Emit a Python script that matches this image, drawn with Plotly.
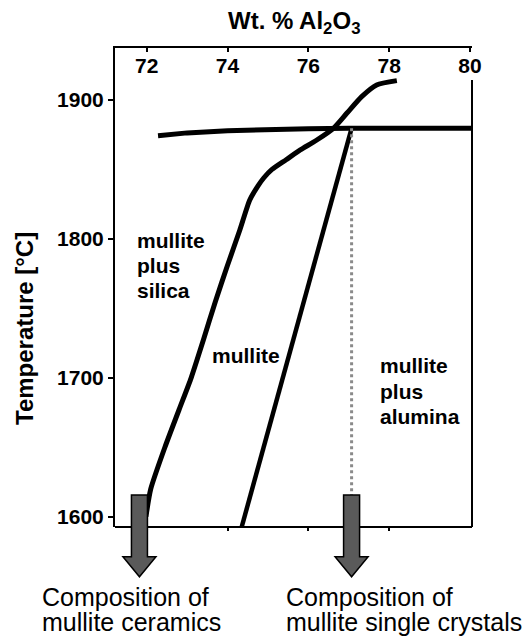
import plotly.graph_objects as go

# ---------------- data ----------------
x_ticks = [72, 74, 76, 78, 80]
y_ticks = [1600, 1700, 1800, 1900]

# three-phase (solidus) horizontal line
solidus_x = [72.28, 73.0, 74.0, 75.0, 76.0, 77.0, 78.0, 80.05]
solidus_T = [1874.3, 1876.3, 1877.8, 1878.8, 1879.3, 1879.6, 1879.6, 1879.6]

# boundary mullite / mullite + silica (continues above solidus)
silica_x = [71.98, 72.1, 72.45, 72.8, 73.1, 73.4, 73.7, 74.0, 74.3, 74.55, 74.75, 74.9,
            75.1, 75.45, 75.8, 76.2, 76.62, 76.95, 77.32, 77.69, 78.19]
silica_T = [1600, 1620, 1650, 1677, 1700, 1727, 1755, 1781, 1806, 1828, 1838, 1844,
            1850, 1857, 1864, 1871, 1879.6, 1890.4, 1902.4, 1910.8, 1913.9]

# boundary mullite / mullite + alumina
alumina_x = [74.35, 75.35, 76.25, 77.07]
alumina_T = [1592.6, 1697, 1791, 1879.6]

# compositions marked by arrows
ceramic_comp = 71.82
crystal_comp = 77.07
arrow_top_T = 1615.6
dotted_T = [1879.6, 1615.6]
right_border_top_T = 1914.4

# ---------------- layout constants ----------------
X0, X1 = 71.215, 80.05
Y0, Y1 = 1592.6, 1937.4
ML, MR, MT, MB = 115, 52, 48, 115
W, H = 524, 642
PW, PH = W - ML - MR, H - MT - MB

def xp(x):
    return (x - X0) / (X1 - X0)

def yp(t):
    return (t - Y0) / (Y1 - Y0)

def pxx(px):  # absolute pixel x -> paper
    return (px - ML) / PW

def pxy(py):  # absolute pixel y -> paper
    return (H - MB - py) / PH

FONT = "Liberation Sans, Arial, Helvetica, sans-serif"
LW = 5

fig = go.Figure()
fig.add_trace(go.Scatter(x=solidus_x, y=solidus_T, mode="lines",
                         line=dict(color="black", width=LW), hoverinfo="skip"))
fig.add_trace(go.Scatter(x=silica_x, y=silica_T, mode="lines",
                         line=dict(color="black", width=LW, shape="spline", smoothing=0.6),
                         hoverinfo="skip"))
fig.add_trace(go.Scatter(x=alumina_x, y=alumina_T, mode="lines",
                         line=dict(color="black", width=4.5), hoverinfo="skip"))
fig.add_trace(go.Scatter(x=[crystal_comp, crystal_comp], y=dotted_T, mode="lines",
                         line=dict(color="#8a8a8a", width=3, dash="dot"), hoverinfo="skip"))
# dummy trace for the bottom axis (ticks only)
fig.add_trace(go.Scatter(x=[X0], y=[Y0], xaxis="x2", mode="markers",
                         marker=dict(opacity=0), hoverinfo="skip"))

shapes = []
# frame: bottom line, right line (stops below the "80" label)
shapes.append(dict(type="line", xref="paper", yref="paper", x0=0, x1=1, y0=0, y1=0,
                   line=dict(color="black", width=2)))
shapes.append(dict(type="line", xref="paper", yref="paper", x0=1, x1=1, y0=0,
                   y1=yp(right_border_top_T), line=dict(color="black", width=2)))

# block arrows
bw, hw = 8 / PW, 16.5 / PW
for comp in [ceramic_comp, crystal_comp]:
    cx = xp(comp)
    top = yp(arrow_top_T)
    base = top - 61.7 / PH
    tip = top - 81.7 / PH
    path = (f"M {cx-bw},{top} L {cx+bw},{top} L {cx+bw},{base} L {cx+hw},{base} "
            f"L {cx},{tip} L {cx-hw},{base} L {cx-bw},{base} Z")
    shapes.append(dict(type="path", xref="paper", yref="paper", path=path,
                       fillcolor="#5a5a5a", line=dict(color="black", width=1.5), layer="above"))

ann = []
bold = dict(family=FONT, size=21, color="black")
def lab(text, x, t):
    ann.append(dict(text=f"<b>{text}</b>", x=x, y=t, xref="x", yref="y", xanchor="left",
                    yanchor="middle", showarrow=False, font=bold))

lab("mullite", 71.71, 1798.5)
lab("plus", 71.71, 1780.5)
lab("silica", 71.71, 1762.5)
lab("mullite", 73.57, 1715.7)
lab("mullite", 77.73, 1708.5)
lab("plus", 77.73, 1690.5)
lab("alumina", 77.73, 1672.5)

reg = dict(family=FONT, size=25, color="black")
for txt, px, py in [("Composition of", 40.7, 597), ("mullite ceramics", 40.7, 621.5),
                    ("Composition of", 285, 597), ("mullite single crystals", 285, 621.5)]:
    ann.append(dict(text=txt, x=pxx(px), y=pxy(py), xref="paper", yref="paper",
                    xanchor="left", yanchor="middle", showarrow=False, font=reg,
                    borderpad=0))

# axis titles
ann.append(dict(text="<b>Wt. % Al<sub>2</sub>O<sub>3</sub></b>", x=pxx(294), y=pxy(23),
                xref="paper", yref="paper", xanchor="center", yanchor="middle",
                showarrow=False, font=dict(family=FONT, size=24, color="black")))
ann.append(dict(text="<b>Temperature [°C]</b>", x=pxx(24), y=pxy(329), textangle=-90,
                xref="paper", yref="paper", xanchor="center", yanchor="middle",
                showarrow=False, font=dict(family=FONT, size=24, color="black")))

tickfont = dict(family=FONT, size=21, color="black", weight="bold")
fig.update_layout(
    width=W, height=H, margin=dict(l=ML, r=MR, t=MT, b=MB, autoexpand=False),
    paper_bgcolor="white", plot_bgcolor="white", showlegend=False,
    shapes=shapes, annotations=ann,
    xaxis=dict(range=[X0, X1], side="top", showline=True, linecolor="black", linewidth=2,
               ticks="inside", ticklen=4, tickwidth=2, tickcolor="black",
               tickvals=x_ticks, ticktext=[str(v) for v in x_ticks],
               ticklabelposition="inside", ticklabeloverflow="allow", ticklabelstandoff=8,
               tickfont=tickfont, showgrid=False, zeroline=False, automargin=False),
    xaxis2=dict(range=[X0, X1], overlaying="x", side="bottom", anchor="y",
                showline=False, ticks="outside", ticklen=3, tickwidth=2, tickcolor="black",
                tickvals=x_ticks[:4], showticklabels=False, showgrid=False, zeroline=False),
    yaxis=dict(range=[Y0, Y1], showline=True, linecolor="black", linewidth=2,
               ticks="outside", ticklen=5, tickwidth=2, tickcolor="black",
               tickvals=y_ticks, tickfont=tickfont, automargin=False,
               showgrid=False, zeroline=False),
)

fig.write_html("out.html", config={"displayModeBar": False},
               post_script="document.body.style.margin='0';")
